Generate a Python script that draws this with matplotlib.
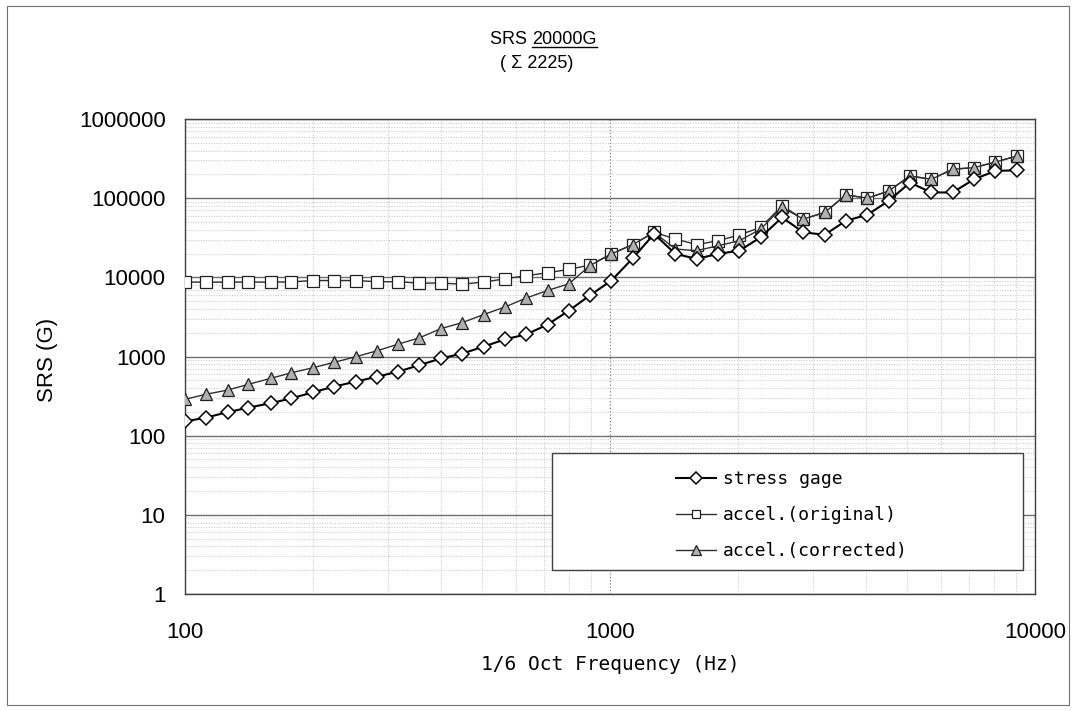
#!/usr/bin/env python3
#
# SRS chart, stress gage vs accelerometer

from matplotlib import pyplot as plt
from matplotlib.patches import Rectangle
from matplotlib.lines import Line2D
from matplotlib.ticker import LogLocator, FixedLocator, NullFormatter

freq = [100, 112, 126, 141, 159, 178, 200, 224, 252, 283,
        317, 356, 400, 449, 504, 566, 635, 713, 800, 898,
        1008, 1131, 1270, 1425, 1600, 1796, 2016, 2263, 2540, 2851,
        3200, 3592, 4032, 4525, 5080, 5702, 6400, 7184, 8063, 9051]

stress_gage = [151, 169, 198, 226, 257, 296, 353, 416, 481, 556,
               643, 778, 944, 1090, 1330, 1650, 1900, 2530, 3790, 5950,
               9120, 17400, 35300, 19800, 17100, 19800, 21700, 32100, 57100, 37000,
               34500, 51900, 61700, 92500, 157000, 118000, 118000, 173000, 221000, 225000]

accel_original = [8700, 8700, 8700, 8700, 8700, 8750, 9120, 9120, 9120, 8800,
                  8800, 8450, 8450, 8200, 8700, 9580, 10500, 11400, 12600, 14300,
                  19800, 25900, 37000, 30500, 25900, 29000, 34300, 42800, 80000, 54500,
                  66000, 110000, 100000, 123000, 191000, 173000, 232000, 243000, 286000, 340000]

accel_corrected = [288, 333, 377, 445, 529, 623, 721, 841, 992, 1180,
                   1430, 1720, 2250, 2680, 3380, 4220, 5470, 6820, 8280, 14100,
                   19800, 25900, 37000, 22800, 21700, 25100, 29000, 40800, 76300, 54500,
                   66000, 110000, 100000, 123000, 191000, 173000, 232000, 243000, 286000, 340000]

xticks = [100, 1000, 10000]
yticks = [1, 10, 100, 1000, 10000, 100000, 1000000]

sans = ['Liberation Sans', 'DejaVu Sans']
mono = ['DejaVu Sans Mono', 'DejaVu Sans']

fig = plt.figure(figsize=(10.72, 7.11), dpi=100)
ax = fig.add_axes([185/1072, 1 - 594/711, 850/1072, 475/711])

ax.set_xscale('log')
ax.set_yscale('log')
ax.set_xlim(100, 10000)
ax.set_ylim(1, 1000000)

# grid: solid horizontal decades, dotted everything else
ax.yaxis.set_minor_locator(LogLocator(base=10, subs=[2, 3, 4, 5, 6, 7, 8, 9]))
ax.xaxis.set_minor_locator(LogLocator(base=10, subs=[2, 3, 4, 5, 6, 7, 8, 9]))
ax.xaxis.set_minor_formatter(NullFormatter())
ax.yaxis.set_minor_formatter(NullFormatter())
ax.grid(which='major', axis='y', linestyle='-', color='#707070', linewidth=1.0)
ax.grid(which='major', axis='x', linestyle=':', color='#808080', linewidth=0.9)
ax.grid(which='minor', axis='both', linestyle=':', color='#c4c4c4', linewidth=0.7)
ax.set_axisbelow(True)

ax.plot(freq, accel_original, color='#303030', linewidth=1.0, marker='s',
        markersize=8, markerfacecolor='white', markeredgecolor='#202020',
        markeredgewidth=0.9, label='accel.(original)', zorder=3)
ax.plot(freq, accel_corrected, color='#303030', linewidth=1.0, marker='^',
        markersize=9, markerfacecolor='#b0b0b0', markeredgecolor='#202020',
        markeredgewidth=0.9, label='accel.(corrected)', zorder=4)
ax.plot(freq, stress_gage, color='black', linewidth=1.5, marker='D',
        markersize=7.5, markerfacecolor='white', markeredgecolor='black',
        markeredgewidth=1.1, label='stress gage', zorder=5)

ax.xaxis.set_major_locator(FixedLocator(xticks))
ax.yaxis.set_major_locator(FixedLocator(yticks))
ax.set_xticklabels([str(v) for v in xticks], fontsize=16, family=sans)
ax.set_yticklabels([str(v) for v in yticks], fontsize=16, family=sans)
ax.tick_params(which='both', length=0)
ax.tick_params(axis='x', pad=20)
ax.tick_params(axis='y', pad=14)

for s in ax.spines.values():
    s.set_color('#404040')
    s.set_linewidth(1.0)

fig.text(48/1072, 1 - 360/711, 'SRS (G)', rotation=90, ha='center', va='center',
         fontsize=16, family=sans)
fig.text(610/1072, 1 - 664/711, '1/6 Oct Frequency (Hz)', ha='center', va='center',
         fontsize=14, family=mono)

# title with underlined part
t1 = fig.text(532/1072, 1 - 39/711, 'SRS ', ha='right', va='center',
              fontsize=13, family=sans)
t2 = fig.text(532/1072, 1 - 39/711, '20000G', ha='left', va='center',
              fontsize=13, family=sans)
fig.text(537/1072, 1 - 64/711, '( \u03a3 2225)', ha='center', va='center',
         fontsize=13, family=sans)
fig.canvas.draw()
bb = t2.get_window_extent()
fig.add_artist(Line2D([bb.x0 / 1072, bb.x1 / 1072], [(bb.y0 + 1) / 711] * 2,
                      color='black', linewidth=1.0))

# legend: custom frame, entries without own frame
ax.add_patch(Rectangle(((552 - 185) / 850, (594 - 570) / 475), 471 / 850, 117 / 475,
                       transform=ax.transAxes, facecolor='white', edgecolor='#404040',
                       linewidth=1.0, zorder=6))
handles, labels = ax.get_legend_handles_labels()
order = [2, 0, 1]
leg = ax.legend([handles[i] for i in order], [labels[i] for i in order],
                loc='upper left', bbox_to_anchor=((667 - 185) / 850, (594 - 461) / 475),
                frameon=False, borderpad=0, prop={'family': mono, 'size': 13},
                handlelength=2.2, handletextpad=0.4, labelspacing=1.0,
                markerscale=0.75)
leg.set_zorder(7)

# outer border
fig.add_artist(Rectangle((7/1072, 6/711), 1062/1072, 699/711, transform=fig.transFigure,
                         fill=False, edgecolor='#707070', linewidth=0.8))

plt.savefig('out.png', dpi=100)
